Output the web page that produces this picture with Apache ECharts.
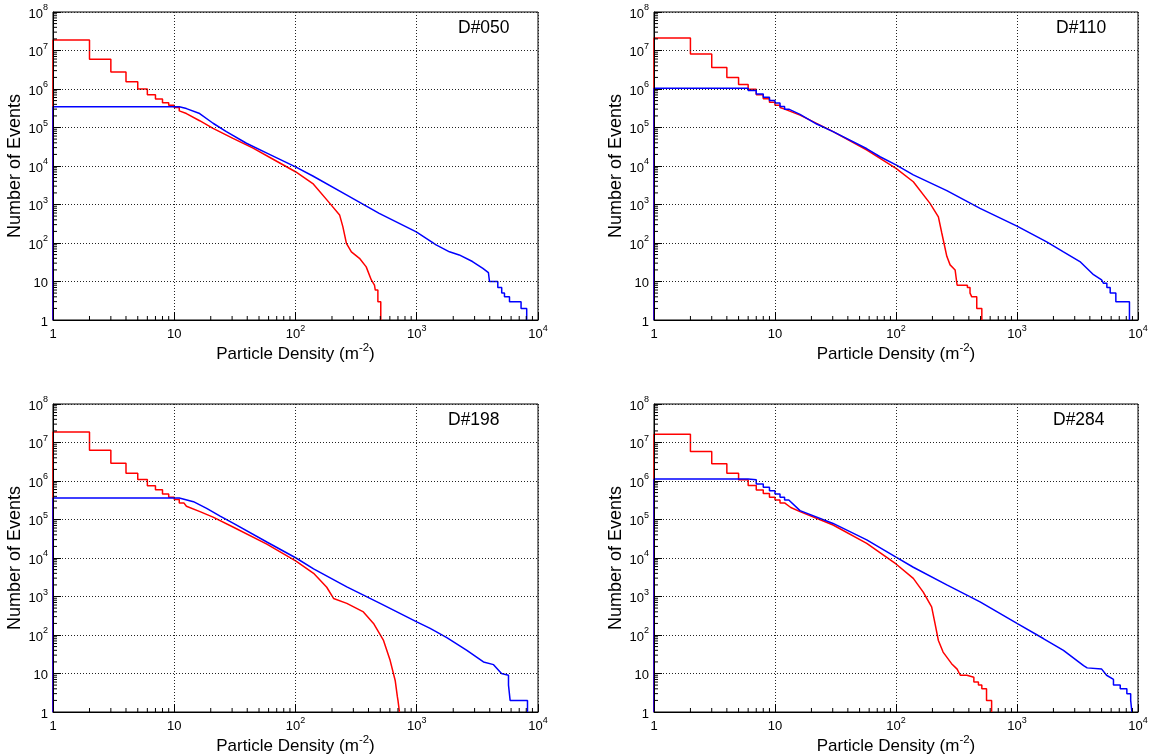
<!DOCTYPE html>
<html><head><meta charset="utf-8">
<script src="https://cdn.jsdelivr.net/npm/echarts@6/dist/echarts.min.js"></script>
<style>html,body{margin:0;padding:0;background:#fff}#c{width:1156px;height:754px}</style>
</head><body><div id="c"></div><script>
// ---------------- DATA ----------------
// Each curve: low-x histogram steps (edges/values), smooth middle (x/y), tail steps (edges/values)
const red050LowX = [1,2,3,4,5,6,7,8,9,10,11];
const red050LowY = [1.86e7,5.9e6,2.75e6,1.55e6,1.0e6,7.1e5,5.5e5,4.4e5,3.8e5,3.3e5];
const red050MidX = [11,12.6,16.2,20.9,30.5,44.7,65.3,100,139,192,231,246,263,289,337,383,422,448];
const red050MidY = [2.7e5,2.3e5,1.5e5,9.5e4,5.2e4,2.9e4,1.5e4,7.1e3,3.5e3,1.07e3,537,263,98,59,40,24,11,8];
const red050TailX = [455,478,505];
const red050TailY = [6,3];
const blue050LowX = [1,11];
const blue050LowY = [3.45e5];
const blue050MidX = [12.6,16.2,20.9,26.9,39.4,57.5,100,139,263,490,991,1445,1860,2240,2880,3510,3900];
const blue050MidY = [3.1e5,2.3e5,1.29e5,7.8e4,3.9e4,2.2e4,9.5e3,5.5e3,1.78e3,589,195,89,59,49,33,22,17];
const blue050TailX = [3980,4660,5020,5290,5820,7250,8070];
const blue050TailY = [10,7,5,4,3,2];

const red110LowX = [1,2,3,4,5,6,7,8,9,10,11];
const red110LowY = [2.1e7,8.1e6,3.6e6,2.0e6,1.3e6,9.8e5,7.1e5,5.6e5,4.5e5,3.8e5];
const red110MidX = [11,12,16.1,30.2,57.5,100,139,191,224,239,249,263,280,308];
const red110MidY = [3.3e5,3.0e5,2.1e5,7.8e4,2.6e4,8.7e3,3.9e3,1.07e3,479,182,100,45,27,20];
const red110TailX = [320,389,409,423,465,512];
const red110TailY = [8,7,5,4,2];
const blue110LowX = [1,6,7,8,9,10,11,12,13];
const blue110LowY = [1.05e6,9.1e5,7.4e5,6.1e5,5.0e5,4.3e5,3.5e5,3.0e5];
const blue110MidX = [16.1,22.1,30.2,57.5,73.8,100,139,263,495,1000,1760,2420,3310,4290,5000];
const blue110MidY = [2.2e5,1.23e5,7.8e4,2.8e4,1.74e4,1.07e4,5.9e3,2.3e3,794,275,107,59,33,15,11];
const blue110TailX = [5190,5530,5890,6560,8500];
const blue110TailY = [9,7,5,3];

const red198LowX = [1,2,3,4,5,6,7,8,9,10,11,12];
const red198LowY = [1.87e7,6.3e6,2.9e6,1.6e6,1.1e6,7.5e5,5.9e5,4.6e5,3.8e5,3.3e5,2.7e5];
const red198MidX = [12.6,16.3,20.9,30.8,58,101,141,181,206,265,363,440,532,603,664,692];
const red198MidY = [2.2e5,1.6e5,1.15e5,6.3e4,2.3e4,8.3e3,4.0e3,1.74e3,891,661,398,200,72,22,6.6,2.5];
const red198TailX = [700,720];
const red198TailY = [2];
const blue198LowX = [1,11];
const blue198LowY = [3.6e5];
const blue198MidX = [14.4,18.5,23.9,30.8,58,101,141,265,499,1000,1290,1770,2590,3550,4300,5000];
const blue198MidY = [2.9e5,1.95e5,1.23e5,7.9e4,2.6e4,1.0e4,5.2e3,1.78e3,661,219,148,85,40,20,17,10];
const blue198TailX = [5190,5710,5890,8190];
const blue198TailY = [9,5,2];

const red284LowX = [1,2,3,4,5,6,7,8,9,10,11,12];
const red284LowY = [1.63e7,5.8e6,2.8e6,1.6e6,1.07e6,7.6e5,5.8e5,4.7e5,3.8e5,3.2e5,2.7e5];
const red284MidX = [12,13.5,16.1,30.2,57.3,100,139,168,197,210,224,245,288,320];
const red284MidY = [2.4e5,2.05e5,1.6e5,7.2e4,2.4e4,7.0e3,2.95e3,1.3e3,537,200,72,36,18,13];
const red284TailX = [340,385,440,480,512,560,617];
const red284TailY = [9,8,6,5,4,2];
const blue284LowX = [1,6,7,8,9,10,11,12,13];
const blue284LowY = [1.12e6,1.07e6,8.3e5,6.9e5,5.6e5,4.6e5,3.8e5,3.2e5];
const blue284MidX = [16.1,30.2,57.3,100,139,263,495,1000,1650,2420,3550,3800,5010,5500,6270];
const blue284MidY = [1.7e5,7.9e4,2.95e4,1.05e4,5.75e3,2.0e3,724,200,81,40,16,14,13,9,7];
const blue284TailX = [6270,7130,8090,8700,8900];
const blue284TailY = [5,4,3,2];

const panelLabels = ['D#050','D#110','D#198','D#284'];
const xTitle = ['Particle Density (m', '-2', ')'];
const yTitle = 'Number of Events';
const minorMult = [2,3,4,5,6,7,8,9];

// ---------------- BUILD ----------------
function buildCurve(lowX, lowY, midX, midY, tailX, tailY) {
  const pts = [[lowX[0], 1]];
  for (let i = 0; i < lowY.length; i++) { pts.push([lowX[i], lowY[i]]); pts.push([lowX[i+1], lowY[i]]); }
  for (let i = 0; i < midX.length; i++) pts.push([midX[i], midY[i]]);
  for (let i = 0; i < tailY.length; i++) { pts.push([tailX[i], tailY[i]]); pts.push([tailX[i+1], tailY[i]]); }
  pts.push([tailX[tailX.length-1], 1]);
  return pts;
}
const curves = [
  [buildCurve(red050LowX,red050LowY,red050MidX,red050MidY,red050TailX,red050TailY),
   buildCurve(blue050LowX,blue050LowY,blue050MidX,blue050MidY,blue050TailX,blue050TailY)],
  [buildCurve(red110LowX,red110LowY,red110MidX,red110MidY,red110TailX,red110TailY),
   buildCurve(blue110LowX,blue110LowY,blue110MidX,blue110MidY,blue110TailX,blue110TailY)],
  [buildCurve(red198LowX,red198LowY,red198MidX,red198MidY,red198TailX,red198TailY),
   buildCurve(blue198LowX,blue198LowY,blue198MidX,blue198MidY,blue198TailX,blue198TailY)],
  [buildCurve(red284LowX,red284LowY,red284MidX,red284MidY,red284TailX,red284TailY),
   buildCurve(blue284LowX,blue284LowY,blue284MidX,blue284MidY,blue284TailX,blue284TailY)]
];
function minorValues(nDec) {
  const out = [];
  for (let e = 0; e < nDec; e++) for (const m of minorMult) out.push(m * Math.pow(10, e));
  return out;
}

const FONT = 'Liberation Sans';
const grids = [
  {left: 53, top: 12, width: 485, height: 308},
  {left: 654, top: 12, width: 484, height: 308},
  {left: 53, top: 404, width: 485, height: 308},
  {left: 654, top: 404, width: 484, height: 308}
];
const labelPos = [
  {left: 458, top: 19}, {left: 1056, top: 19}, {left: 448, top: 411}, {left: 1053, top: 411}
];

const tickRich = {
  b: {fontSize: 13, fontFamily: FONT, color: '#000', lineHeight: 17, verticalAlign: 'bottom'},
  s: {fontSize: 9, fontFamily: FONT, color: '#000', lineHeight: 17, verticalAlign: 'top'}
};
function powLabel(v) {
  const e = Math.round(Math.log10(v));
  if (e === 0) return '{b|1}';
  if (e === 1) return '{b|10}';
  return '{b|10}{s|' + e + '}';
}

const option = {
  animation: false,
  backgroundColor: '#fff',
  title: panelLabels.map((t, i) => ({
    text: t, left: labelPos[i].left, top: labelPos[i].top, padding: 0,
    textStyle: {fontFamily: FONT, fontSize: 17.5, fontWeight: 'normal', color: '#000'}
  })),
  grid: grids.map(g => Object.assign({show: true, borderColor: '#000', borderWidth: 1,
    containLabel: false, outerBoundsMode: 'none', backgroundColor: '#fff'}, g)),
  xAxis: grids.map((g, i) => ({
    type: 'log', logBase: 10, gridIndex: i, min: 1, max: 10000, splitNumber: 4, z: 6,
    axisLine: {show: true, onZero: false, lineStyle: {color: '#000', width: 1}},
    axisTick: {show: true, inside: true, length: 8, lineStyle: {color: '#000', width: 1}},
    axisLabel: {formatter: powLabel, margin: 4, rich: tickRich, showMinLabel: true, showMaxLabel: true},
    splitLine: {show: true, lineStyle: {color: '#222', width: 1, type: [1, 2]}},
    name: '{t|' + xTitle[0] + '}{s|' + xTitle[1] + '}{t|' + xTitle[2] + '}',
    nameLocation: 'middle', nameGap: 18,
    nameTextStyle: {rich: {
      t: {fontSize: 17, fontFamily: FONT, color: '#000', lineHeight: 21, verticalAlign: 'bottom'},
      s: {fontSize: 11.5, fontFamily: FONT, color: '#000', lineHeight: 21, verticalAlign: 'top'}
    }}
  })),
  yAxis: grids.map((g, i) => ({
    type: 'log', logBase: 10, gridIndex: i, min: 1, max: 1e8, splitNumber: 8, z: 6,
    axisLine: {show: true, onZero: false, lineStyle: {color: '#000', width: 1}},
    axisTick: {show: true, inside: true, length: 8, lineStyle: {color: '#000', width: 1}},
    axisLabel: {formatter: powLabel, margin: 5, rich: tickRich, showMinLabel: true, showMaxLabel: true},
    splitLine: {show: true, lineStyle: {color: '#222', width: 1, type: [1, 2]}},
    name: yTitle, nameLocation: 'middle', nameGap: 29, nameRotate: 90,
    nameTextStyle: {fontSize: 18, fontFamily: FONT, color: '#000'}
  })),
  series: []
};

grids.forEach((g, i) => {
  option.series.push({
    type: 'custom', xAxisIndex: i, yAxisIndex: i, silent: true, z: 5, clip: false,
    data: minorValues(4).map(v => [v, 1]),
    renderItem: (params, api) => {
      const p = api.coord([api.value(0), api.value(1)]);
      return {type: 'line', shape: {x1: p[0], y1: p[1], x2: p[0], y2: p[1] - 4},
        style: {stroke: '#000', lineWidth: 1}};
    }
  });
  option.series.push({
    type: 'custom', xAxisIndex: i, yAxisIndex: i, silent: true, z: 5, clip: false,
    data: minorValues(8).map(v => [1, v]),
    renderItem: (params, api) => {
      const p = api.coord([api.value(0), api.value(1)]);
      return {type: 'line', shape: {x1: p[0], y1: p[1], x2: p[0] + 4, y2: p[1]},
        style: {stroke: '#000', lineWidth: 1}};
    }
  });
  option.series.push({
    type: 'line', xAxisIndex: i, yAxisIndex: i, data: curves[i][0], showSymbol: false, symbol: 'none',
    lineStyle: {color: '#ff0000', width: 1.5}, z: 3, silent: true
  });
  option.series.push({
    type: 'line', xAxisIndex: i, yAxisIndex: i, data: curves[i][1], showSymbol: false, symbol: 'none',
    lineStyle: {color: '#0000ff', width: 1.5}, z: 4, silent: true
  });
});

const chart = echarts.init(document.getElementById('c'), null, {renderer: 'canvas'});
chart.setOption(option);
</script></body></html>
